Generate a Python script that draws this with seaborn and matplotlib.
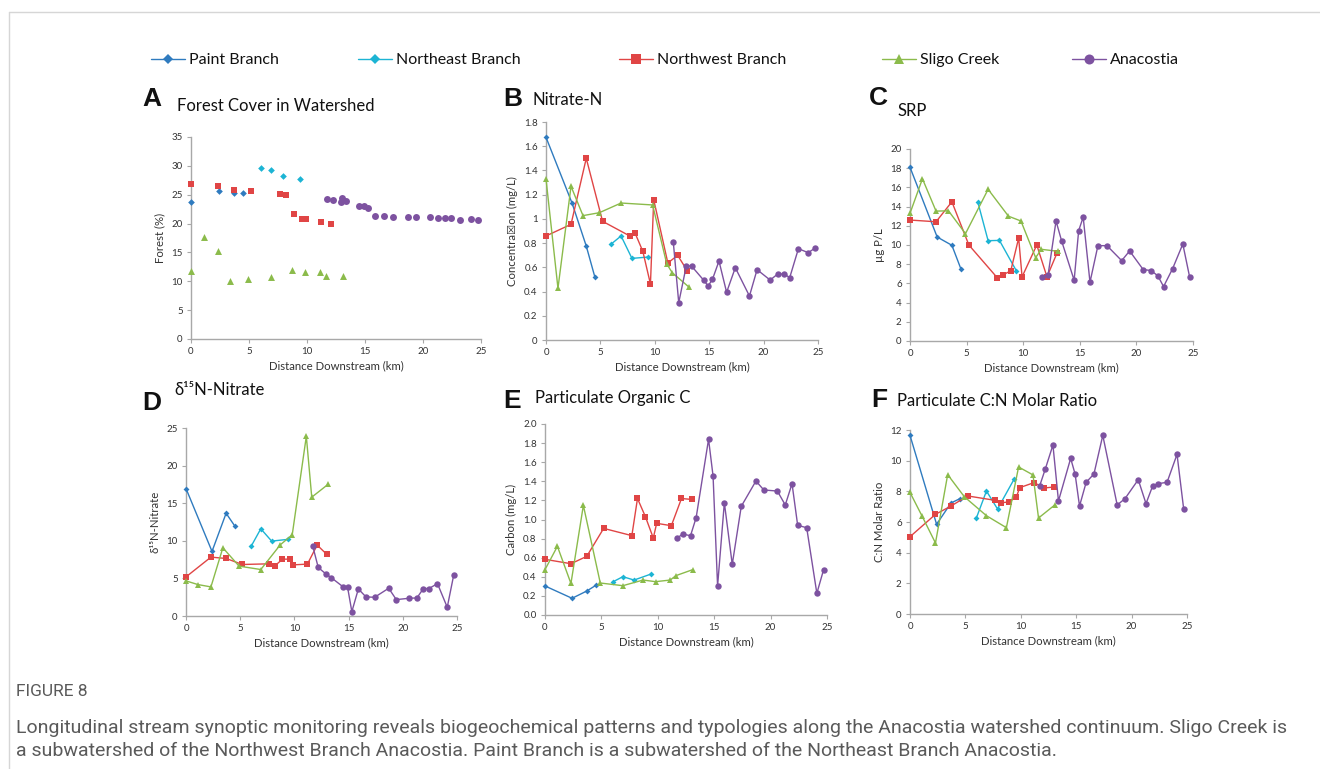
import numpy as np
import pandas as pd
import matplotlib
matplotlib.use("Agg")
import matplotlib.pyplot as plt
import seaborn as sns
from matplotlib.lines import Line2D
from matplotlib.ticker import FuncFormatter, MultipleLocator

nan = np.nan

# ---------------- data ----------------
SITES = ["Paint Branch", "Northeast Branch", "Northwest Branch", "Sligo Creek", "Anacostia"]

PB_X = [0, 2.4, 3.7, 4.5]
NE_X = [6.0, 6.9, 7.9, 9.4]
NW_X = [0, 2.3, 3.7, 5.2, 7.7, 8.2, 8.9, 9.6, 9.9, 11.2, 12.1, 13.0]
SC_X = [0, 1.1, 2.3, 3.4, 4.9, 6.9, 8.7, 9.8, 11.1, 11.6, 13.1]
AN_X = [11.7, 12.2, 12.9, 13.0, 13.4, 14.5, 14.9, 15.3, 15.9, 16.6,
        17.4, 18.7, 19.4, 20.6, 21.3, 21.9, 22.4, 23.2, 24.1, 24.7]

# A Forest cover (%)
forest_pb = [23.8, 25.6, 25.3, 25.3]
forest_ne = [29.7, 29.3, 28.3, 27.8]
forest_nw = [26.8, 26.5, 25.8, 25.6, 25.2, 25.0, 21.6, 20.8, 20.8, 20.2, 19.9, nan]
forest_sc = [11.7, 17.7, 15.2, 10.1, 10.4, 10.8, 11.9, 11.6, 11.6, 11.0, 10.9]
forest_an = [24.2, 24.1, 23.8, 24.4, 23.9, 23.0, 23.0, 22.7, 21.3, 21.3,
             21.1, 21.2, 21.2, 21.1, 21.0, 20.9, 20.9, 20.7, 20.8, 20.6]

# B Nitrate-N (mg/L)
no3_pb = [1.674, 1.129, 0.776, 0.517]
no3_ne = [0.793, 0.859, 0.674, 0.685]
no3_nw = [0.859, 0.955, 1.50, 0.98, 0.859, 0.88, 0.732, 0.462, 1.159, 0.636, 0.699, 0.57]
no3_sc = [1.33, 0.427, 1.269, 1.027, 1.051, 1.131, nan, 1.115, 0.628, 0.556, 0.44]
no3_an = [0.809, 0.308, 0.614, nan, 0.608, 0.493, 0.446, 0.501, 0.652, 0.394,
          0.597, 0.363, 0.581, 0.495, 0.545, 0.545, 0.515, 0.754, 0.721, 0.757]

# C SRP (ug P/L)
srp_pb = [18.1, 10.83, 9.97, 7.5]
srp_ne = [14.43, 10.45, 10.48, 7.3]
srp_nw = [12.6, 12.42, 14.5, 10.0, 6.6, 6.89, 7.3, 10.73, 6.68, 10.0, 6.68, 9.2]
srp_sc = [13.3, 16.9, 13.53, 13.56, 11.18, 15.8, 13.0, 12.5, 8.68, 9.55, 9.34]
srp_an = [6.68, 6.9, 12.5, nan, 10.4, 6.33, 11.5, 12.9, 6.12, 9.93,
          9.93, 8.37, 9.38, 7.44, 7.34, 6.78, 5.67, 7.54, 10.1, 6.68]

# D delta15N-nitrate
d15n_pb = [16.95, 8.59, 13.66, 11.97]
d15n_ne = [9.25, 11.6, 9.96, 10.19]
d15n_nw = [5.2, 7.83, 7.65, 6.85, 6.94, 6.67, 7.56, 7.56, 6.8, 6.9, 9.43, 8.18]
d15n_sc = [4.67, 4.18, 3.87, 9.07, 6.63, 6.18, 9.47, 10.8, 23.9, 15.8, 17.5]
d15n_an = [9.25, 6.45, 5.6, nan, 5.1, 3.87, 3.87, 0.58, 3.6, 2.54,
           2.49, 3.69, 2.18, 2.36, 2.4, 3.65, 3.65, 4.3, 1.16, 5.47]

# E Particulate organic C (mg/L)
poc_pb = [0.304, 0.175, 0.251, 0.31]
poc_ne = [0.346, 0.401, 0.366, 0.429]
poc_nw = [0.583, 0.537, 0.614, 0.907, 0.831, 1.22, 1.03, 0.806, 0.96, 0.935, 1.22, 1.21]
poc_sc = [0.475, 0.719, 0.33, 1.148, 0.335, 0.307, 0.366, 0.349, 0.366, 0.412, 0.475]
poc_an = [0.803, 0.848, 0.83, nan, 1.02, 1.84, 1.455, 0.304, 1.176, 0.53,
          1.138, 1.403, 1.309, 1.298, 1.152, 1.375, 0.939, 0.914, 0.227, 0.475]

# F Particulate C:N molar ratio
cn_pb = [11.65, 5.85, 7.24, 7.52]
cn_ne = [6.28, 8.02, 6.85, 8.8]
cn_nw = [5.04, 6.5, 7.04, 7.7, 7.41, 7.26, 7.3, 7.63, 8.24, 8.57, 8.22, 8.28]
cn_sc = [7.93, 6.37, 4.63, 9.09, 7.65, 6.41, 5.63, 9.59, 9.07, 6.26, 7.13]
cn_an = [8.35, 9.43, 11.02, nan, 7.37, 10.15, 9.13, 7.04, 8.59, 9.13,
         11.65, 7.11, 7.52, 8.76, 7.2, 8.35, 8.5, 8.59, 10.41, 6.85]

X_TICKS = [0, 5, 10, 15, 20, 25]

# ---------------- style ----------------
COLORS = {"Paint Branch": "#2f7bbf", "Northeast Branch": "#1cb4d4",
          "Northwest Branch": "#e04545", "Sligo Creek": "#8bbb4b",
          "Anacostia": "#7d52a0"}
MARKERS = {"Paint Branch": "D", "Northeast Branch": "D", "Northwest Branch": "s",
           "Sligo Creek": "^", "Anacostia": "o"}
MSIZE = {"Paint Branch": 3.0, "Northeast Branch": 3.0, "Northwest Branch": 4.4,
         "Sligo Creek": 4.6, "Anacostia": 4.6}
SITE_X = dict(zip(SITES, [PB_X, NE_X, NW_X, SC_X, AN_X]))

sns.set_style("ticks")
plt.rcParams['font.family'] = ['Lato', 'DejaVu Sans']
AX_GRAY = "#a8a8a8"
TXT = "#333333"

W, H = 1320, 769
fig = plt.figure(figsize=(W / 100, H / 100), dpi=100)
fig.patch.set_facecolor("white")


def rect(x0, x1, ytop, ybot):
    return [x0 / W, 1 - ybot / H, (x1 - x0) / W, (ybot - ytop) / H]


def fx(x):
    return x / W


def fy(y):
    return 1 - y / H


def long_df(values):
    rows = []
    for site, ys in zip(SITES, values):
        for x, y in zip(SITE_X[site], ys):
            if not np.isnan(y):
                rows.append((site, x, y))
    return pd.DataFrame(rows, columns=["site", "x", "y"])


def style_axes(ax, ymax, ystep, ylabel, fmt):
    ax.set_xlim(0, 25)
    ax.set_ylim(0, ymax)
    ax.set_xticks(X_TICKS)
    ax.yaxis.set_major_locator(MultipleLocator(ystep))
    ax.yaxis.set_major_formatter(FuncFormatter(fmt))
    sns.despine(ax=ax)
    for s in ("left", "bottom"):
        ax.spines[s].set_color(AX_GRAY)
        ax.spines[s].set_linewidth(1.0)
        ax.spines[s].set_zorder(1)
    ax.tick_params(axis="both", direction="out", length=3, width=0.8,
                   color=AX_GRAY, labelsize=7, labelcolor=TXT, pad=3)
    ax.set_xlabel("Distance Downstream (km)", fontsize=8.2, color=TXT, labelpad=3)
    ax.set_ylabel(ylabel, fontsize=8.2, color=TXT, labelpad=4)
    ax.set_facecolor("none")


def draw_lines(ax, values):
    df = long_df(values)
    for site in SITES:
        sub = df[df.site == site]
        sns.lineplot(data=sub, x="x", y="y", ax=ax, color=COLORS[site],
                     marker=MARKERS[site], markersize=MSIZE[site],
                     markeredgewidth=0, linewidth=1.0, estimator=None,
                     sort=False, legend=False, clip_on=False, zorder=4)


def draw_points(ax, values):
    df = long_df(values)
    for site in SITES:
        sub = df[df.site == site]
        sns.scatterplot(data=sub, x="x", y="y", ax=ax, color=COLORS[site],
                        marker=MARKERS[site], s=(MSIZE[site] + 0.4) ** 2,
                        linewidth=0, legend=False, clip_on=False, zorder=4)


fmt_int = lambda v, p: f"{v:g}"
fmt_1 = lambda v, p: f"{v:.1f}"

# Panel A
axA = fig.add_axes(rect(191, 481, 137, 339))
draw_points(axA, [forest_pb, forest_ne, forest_nw, forest_sc, forest_an])
style_axes(axA, 35, 5, "Forest (%)", fmt_int)

# Panel B
axB = fig.add_axes(rect(546, 818, 122, 340))
draw_lines(axB, [no3_pb, no3_ne, no3_nw, no3_sc, no3_an])
style_axes(axB, 1.8, 0.2, "Concentra\u2612on (mg/L)", fmt_int)

# Panel C
axC = fig.add_axes(rect(910, 1193, 149, 341))
draw_lines(axC, [srp_pb, srp_ne, srp_nw, srp_sc, srp_an])
style_axes(axC, 20, 2, "\u00b5g P/L", fmt_int)

# Panel D
axD = fig.add_axes(rect(186, 457, 428, 616))
draw_lines(axD, [d15n_pb, d15n_ne, d15n_nw, d15n_sc, d15n_an])
style_axes(axD, 25, 5, "\u03b4\u00b9\u2075N-Nitrate", fmt_int)

# Panel E
axE = fig.add_axes(rect(545, 827, 424, 615))
draw_lines(axE, [poc_pb, poc_ne, poc_nw, poc_sc, poc_an])
style_axes(axE, 2.0, 0.2, "Carbon (mg/L)", fmt_1)

# Panel F
axF = fig.add_axes(rect(910, 1187, 430, 614))
draw_lines(axF, [cn_pb, cn_ne, cn_nw, cn_sc, cn_an])
style_axes(axF, 12, 2, "C:N Molar Ratio", fmt_int)

# Panel letters and titles
LETTER_FONT = dict(fontsize=19, fontweight="bold", family=["Liberation Sans", "DejaVu Sans"],
                   color="#111111", va="baseline", ha="left")
TITLE_FONT = dict(fontsize=12, color="#111111", va="baseline", ha="left",
                  family=["Lato", "DejaVu Sans"])
letters = [("A", 142, 106), ("B", 503, 106), ("C", 869, 105),
           ("D", 142, 410), ("E", 503, 408), ("F", 871, 407)]
titles = [("Forest Cover in Watershed", 177, 111), ("Nitrate-N", 533, 105),
          ("SRP", 897, 116), ("\u03b4\u00b9\u2075N-Nitrate", 174, 395),
          ("Particulate Organic C", 535, 403), ("Particulate C:N Molar Ratio", 897, 406)]
for t, x, y in letters:
    fig.text(fx(x), fy(y), t, **LETTER_FONT)
for t, x, y in titles:
    fig.text(fx(x), fy(y), t, **TITLE_FONT)

# Legend (one entry per box to match spacing)
leg_pos = [151, 358, 619, 882, 1072]
for site, x in zip(SITES, leg_pos):
    h = Line2D([], [], color=COLORS[site], marker=MARKERS[site], linewidth=1.0,
               markersize=MSIZE[site] + 2.6, markeredgewidth=0)
    fig.legend(handles=[h], labels=[site], loc="center left",
               bbox_to_anchor=(fx(x), fy(60)), frameon=False, fontsize=11.5,
               handlelength=2.1, handletextpad=0.3, borderpad=0, borderaxespad=0,
               labelcolor="#111111")

# Border lines
fig.add_artist(Line2D([fx(9), 1.0], [fy(12), fy(12)], color="#d6d6d6", linewidth=1.0))
fig.add_artist(Line2D([fx(9), fx(9)], [fy(12), 0.0], color="#d6d6d6", linewidth=1.0))

# Caption
CAP = dict(family=["Roboto", "DejaVu Sans"], color="#5a5a5a", ha="left", va="center")
fig.text(fx(16), fy(692), "FIGURE 8", fontsize=12.5, **CAP)
fig.text(fx(16), fy(728),
         "Longitudinal stream synoptic monitoring reveals biogeochemical patterns and typologies "
         "along the Anacostia watershed continuum. Sligo Creek is", fontsize=14, **CAP)
fig.text(fx(16), fy(751),
         "a subwatershed of the Northwest Branch Anacostia. Paint Branch is a subwatershed of "
         "the Northeast Branch Anacostia.", fontsize=14, **CAP)

fig.savefig("out.png", dpi=100, facecolor="white")
